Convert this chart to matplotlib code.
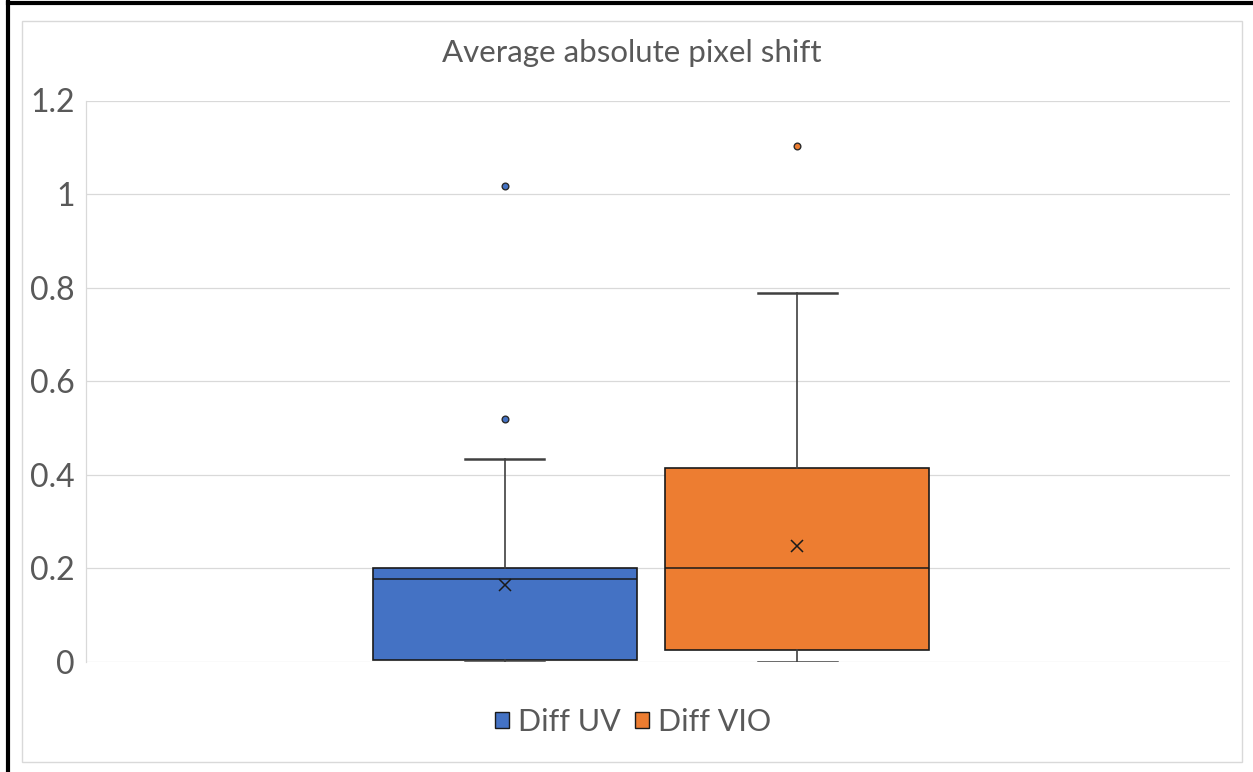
import matplotlib.pyplot as plt
from matplotlib.patches import Patch, Rectangle
from matplotlib.lines import Line2D

plt.rcParams['font.family'] = ['Lato', 'DejaVu Sans']

# values
series = ["Diff UV", "Diff VIO"]
colors = ["#4472C4", "#ED7D31"]
whislo = [0.0, 0.0]
q1 = [0.003, 0.024]
med = [0.177, 0.201]
q3 = [0.201, 0.413]
whishi = [0.433, 0.788]
means = [0.164, 0.246]
fliers = [[0.519, 1.017], [1.102]]
yticks = [0, 0.2, 0.4, 0.6, 0.8, 1, 1.2]
ytick_labels = ["0", "0.2", "0.4", "0.6", "0.8", "1", "1.2"]

W, H = 1253, 772
fig = plt.figure(figsize=(W / 100, H / 100), dpi=100)
ax = fig.add_axes([86 / W, 1 - 661.5 / H, (1230 - 86) / W, (661.5 - 100.5) / H])

stats = []
for i in range(len(series)):
    stats.append(dict(label=series[i], whislo=whislo[i], q1=q1[i], med=med[i],
                      q3=q3[i], whishi=whishi[i], mean=means[i], fliers=fliers[i]))

bp = ax.bxp(stats, positions=[0, 1], widths=0.902, capwidths=0.27,
            patch_artist=True, showmeans=True, manage_ticks=False,
            boxprops=dict(edgecolor="#1a1a1a", linewidth=1.2),
            medianprops=dict(color="#1a1a1a", linewidth=1.1),
            whiskerprops=dict(color="#404040", linewidth=1.2),
            capprops=dict(color="#404040", linewidth=1.8),
            meanprops=dict(marker="x", markeredgecolor="#1a1a1a",
                           markersize=9, markeredgewidth=1.1),
            flierprops=dict(marker="o", markersize=4.8, markeredgewidth=1.0,
                            markeredgecolor="#2b2b2b"))
for patch, c in zip(bp["boxes"], colors):
    patch.set_facecolor(c)
for fl, c in zip(bp["fliers"], colors):
    fl.set_markerfacecolor(c)

ax.set_xlim(-1.430, 2.478)
ax.set_ylim(0, 1.2)
ax.set_yticks(yticks)
ax.set_yticklabels(ytick_labels)
ax.set_xticks([])
ax.tick_params(axis="y", length=0, pad=8.3, labelsize=23, labelcolor="#595959")
ax.yaxis.grid(True, color="#D9D9D9", linewidth=0.9)
ax.set_axisbelow(True)
for s in ["top", "right", "bottom"]:
    ax.spines[s].set_visible(False)
ax.spines["left"].set_color("#D9D9D9")
ax.spines["left"].set_linewidth(0.9)

fig.text(631.7 / W, 1 - 61.7 / H, "Average absolute pixel shift", ha="center",
         va="baseline", fontsize=22.5, color="#595959")

handles = [Patch(facecolor=c, edgecolor="#1a1a1a", linewidth=1.0) for c in colors]
fig.legend(handles, series, loc="center", bbox_to_anchor=(633 / W, 1 - 722 / H),
           ncol=2, frameon=False, fontsize=22, labelcolor="#595959",
           handlelength=0.46, handleheight=0.46, handletextpad=0.3,
           columnspacing=0.45, borderpad=0, borderaxespad=0)

# chart area frame and the black edges of the screenshot
fig.patches.append(Rectangle((22 / W, 1 - 762 / H), (1242 - 22) / W, (762 - 21) / H,
                             transform=fig.transFigure, fill=False,
                             edgecolor="#D9D9D9", linewidth=1.0))
fig.lines.append(Line2D([8 / W, 8 / W], [0, 1], transform=fig.transFigure,
                        color="black", linewidth=3))
fig.lines.append(Line2D([8 / W, 1], [1 - 2.5 / H, 1 - 2.5 / H], transform=fig.transFigure,
                        color="black", linewidth=3))

fig.savefig("out.png", dpi=100)
